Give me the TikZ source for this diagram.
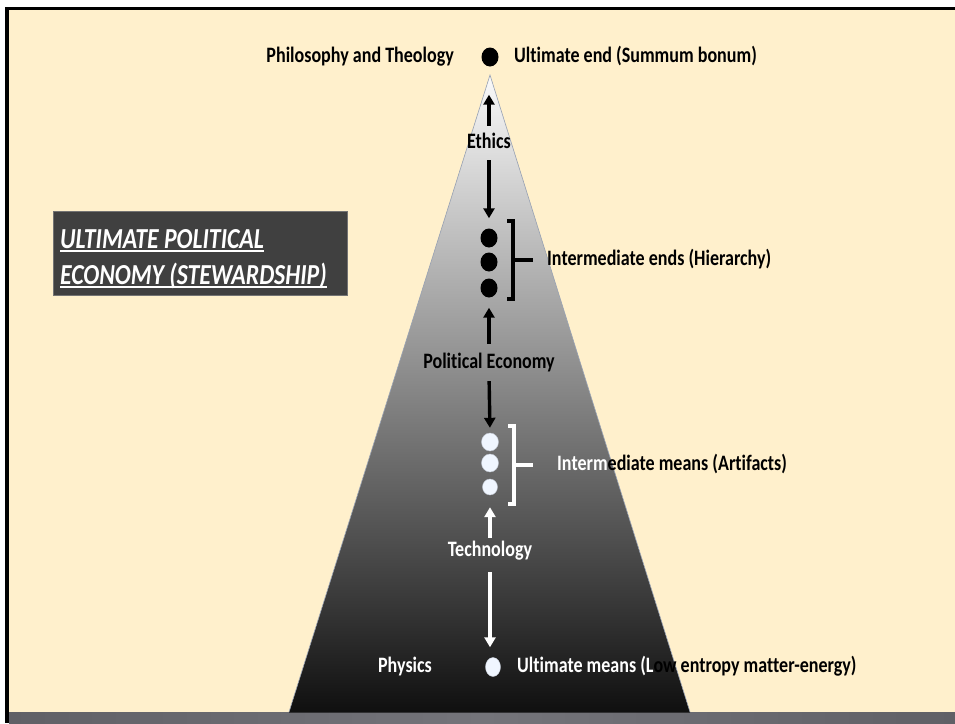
\documentclass[tikz,border=0pt]{standalone}
\usepackage{fontspec}
\setmainfont{Carlito}[Ligatures=NoCommon]
\usetikzlibrary{arrows.meta,shapes.geometric}
\definecolor{cream}{RGB}{255,240,204}
\definecolor{boxgray}{RGB}{64,64,64}
\definecolor{bandgray}{RGB}{96,96,102}
\definecolor{bandlight}{RGB}{116,116,122}
\definecolor{edgeblue}{RGB}{150,160,178}
\definecolor{dotwhite}{RGB}{240,246,255}
\begin{document}
\begin{tikzpicture}[x=1pt,y=-1pt,
  lbl/.style={font=\bfseries\fontsize{22}{26}\selectfont, xscale=0.82, inner sep=0pt, text height=15pt, text depth=5pt},
  ttl/.style={anchor=base west, inner sep=0pt, text=white, xscale=0.82, font=\bfseries\itshape\fontsize{29}{34}\selectfont},
  uline/.style={draw=white, line width=1.8pt},
  blackdot/.style={ellipse, fill=black, minimum width=17pt, minimum height=19pt, inner sep=0pt},
  whitedot/.style={ellipse, fill=dotwhite, draw=edgeblue!60, line width=0.4pt, minimum width=17pt, minimum height=18pt, inner sep=0pt},
  blackarrow/.style={draw=black, line width=3.4pt, -{Triangle[length=10pt,width=11pt]}},
  whitearrow/.style={draw=white, line width=3.4pt, -{Triangle[length=10pt,width=11pt]}},
  brack/.style={line width=3.2pt, line cap=butt}
]
\useasboundingbox (0,0) rectangle (955,723);
\fill[white] (0,0) rectangle (955,723);
\fill[cream] (9,10) rectangle (955,713);
\fill[black] (5,7) rectangle (955,10);
\shade[left color=bandgray, right color=bandgray, middle color=bandlight] (9,712) rectangle (955,723);
\fill[black] (5,7) rectangle (9,723);

% pyramid
\shade[top color=white!98!black, middle color=black!40, bottom color=black!94] (490,75) -- (690,712.5) -- (289,712.5) -- cycle;
\draw[edgeblue, line width=0.6pt] (289,712) -- (490,75) -- (690,712);

% title box
\node[fill=boxgray, draw=black!55, line width=0.4pt, minimum width=294pt, minimum height=84pt, anchor=north west, inner sep=0pt] (box) at (53,211) {};
\node[ttl] (t1) at (60,248) {ULTIMATE POLITICAL};
\node[ttl] (t2) at (60,284) {ECONOMY (STEWARDSHIP)};
\draw[uline] ([yshift=-3pt]t1.base west) -- ([yshift=-3pt]t1.base east);
\draw[uline] ([yshift=-3pt]t2.base west) -- ([yshift=-3pt]t2.base east);

% top
\node[blackdot] (top) at (490,57) {};
\node[lbl, anchor=east] (phil) at (454,57) {Philosophy and Theology};
\node[lbl, anchor=west] (ult) at (514,57) {Ultimate end (Summum bonum)};

\node[lbl] (ethics) at (489,143) {Ethics};
\draw[blackarrow, shorten <=7pt, shorten >=28pt] (ethics.north) -- (ethics.north |- top.south);

% intermediate ends
\node[blackdot] (e1) at (489,238) {};
\node[blackdot] (e2) at (489,262) {};
\node[blackdot] (e3) at (489,288) {};
\draw[blackarrow, shorten <=7pt, shorten >=10pt] (ethics.south) -- (e1.north);
\draw[brack, black] (507,221) -- (513,221) -- (513,299) -- (507,299);
\draw[brack, black] (513,260) -- (533,260);
\node[lbl, anchor=west] (iends) at (547,260) {Intermediate ends (Hierarchy)};

\node[lbl] (pe) at (489,363) {Political Economy};
\draw[blackarrow, shorten <=9pt, shorten >=10pt] (pe.north) -- (e3.south);

% intermediate means
\node[whitedot] (m1) at (490,442) {};
\node[whitedot] (m2) at (490,463) {};
\node[whitedot, minimum width=15pt, minimum height=16pt] (m3) at (490,487) {};
\draw[blackarrow, shorten <=8pt, shorten >=5pt] (pe.south) -- (m1.north);
\draw[brack, white] (508,426) -- (514,426) -- (514,504) -- (508,504);
\draw[brack, white] (514,465) -- (533,465);
\node[lbl, anchor=west] (imeans) at (557,465) {{\color{white}Interm}ediate means (Artifacts)};

\node[lbl, text=white] (tech) at (490,551) {Technology};
\draw[whitearrow, shorten <=3pt, shorten >=12pt] (tech.north) -- (m3.south);

% bottom
\node[whitedot, minimum width=15pt, minimum height=19pt] (phys) at (493,667) {};
\node[lbl, text=white] (physics) at (405,667) {Physics};
\node[lbl, anchor=west] (umeans) at (517,667) {{\color{white}Ultimate means (L}ow entropy matter-energy)};
\draw[whitearrow, shorten <=11pt, shorten >=10pt] (tech.south) -- (tech.south |- phys.north);
\end{tikzpicture}
\end{document}
